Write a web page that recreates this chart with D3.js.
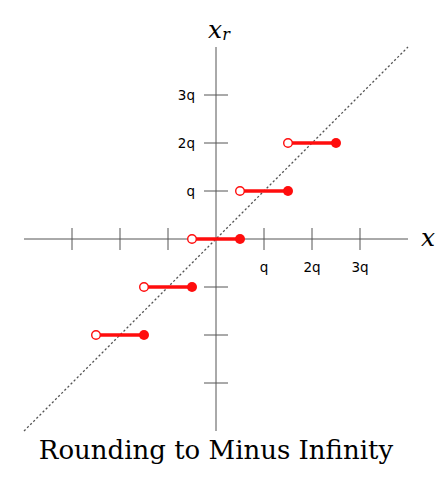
<!DOCTYPE html>
<html><head><meta charset="utf-8">
<script src="https://cdn.jsdelivr.net/npm/d3@7"></script>
<style>body{margin:0;background:#fff}</style>
</head><body>
<svg id="c" width="440" height="485"></svg>
<script>
const tickVals = [-3,-2,-1,1,2,3];
const tickLabels = ["", "", "", "q", "2q", "3q"];
const stepLevels = [-2,-1,0,1,2];
const stepStart = [-2.5,-1.5,-0.5,0.5,1.5];
const stepEnd = [-1.5,-0.5,0.5,1.5,2.5];
const title = "Rounding to Minus Infinity";

const svg = d3.select("#c");
const x = d3.scaleLinear().domain([-4,4]).range([24,408]);
const y = d3.scaleLinear().domain([-4,4]).range([431,47]);
const axisCol = "#555", red = "#ff0d0d";

// diagonal
svg.append("line").attr("x1",x(-4)).attr("y1",y(-4)).attr("x2",x(4)).attr("y2",y(4))
  .attr("stroke","#555").attr("stroke-width",1.3).attr("stroke-dasharray","2.2,2.2");

// axes
svg.append("line").attr("x1",x(-4)).attr("x2",x(4)).attr("y1",y(0)).attr("y2",y(0)).attr("stroke",axisCol).attr("stroke-width",1);
svg.append("line").attr("x1",x(0)).attr("x2",x(0)).attr("y1",y(-4)).attr("y2",y(4)).attr("stroke",axisCol).attr("stroke-width",1);

// ticks
tickVals.forEach((v,i)=>{
  svg.append("line").attr("x1",x(v)).attr("x2",x(v)).attr("y1",y(0)-11).attr("y2",y(0)+11).attr("stroke",axisCol);
  svg.append("line").attr("x1",x(0)-12).attr("x2",x(0)+12).attr("y1",y(v)).attr("y2",y(v)).attr("stroke",axisCol);
  if (tickLabels[i]) {
    svg.append("text").attr("x",x(v)).attr("y",y(0)+33).attr("text-anchor","middle")
      .attr("font-family","DejaVu Sans").attr("font-size",13.5).text(tickLabels[i]);
    svg.append("text").attr("x",x(0)-21).attr("y",y(v)+5).attr("text-anchor","end")
      .attr("font-family","DejaVu Sans").attr("font-size",13.5).text(tickLabels[i]);
  }
});

// steps
stepLevels.forEach((lv,i)=>{
  svg.append("line").attr("x1",x(stepStart[i])).attr("x2",x(stepEnd[i])).attr("y1",y(lv)).attr("y2",y(lv))
    .attr("stroke",red).attr("stroke-width",3.5);
  svg.append("circle").attr("cx",x(stepStart[i])).attr("cy",y(lv)).attr("r",4.3)
    .attr("fill","#fff").attr("stroke",red).attr("stroke-width",1.4);
  svg.append("circle").attr("cx",x(stepEnd[i])).attr("cy",y(lv)).attr("r",5)
    .attr("fill",red);
});

// axis labels
const xr = svg.append("text").attr("x",x(0)+3).attr("y",38).attr("text-anchor","middle")
  .attr("font-family","DejaVu Serif").attr("font-style","italic").attr("font-size",25);
xr.append("tspan").text("x");
xr.append("tspan").attr("font-size",16).attr("dy",2).text("r");
svg.append("text").attr("x",428).attr("y",y(0)+7).attr("text-anchor","middle")
  .attr("font-family","DejaVu Serif").attr("font-style","italic").attr("font-size",25).text("x");

svg.append("text").attr("x",216).attr("y",459).attr("text-anchor","middle")
  .attr("font-family","DejaVu Serif").attr("font-size",26).text(title);
</script>
</body></html>
